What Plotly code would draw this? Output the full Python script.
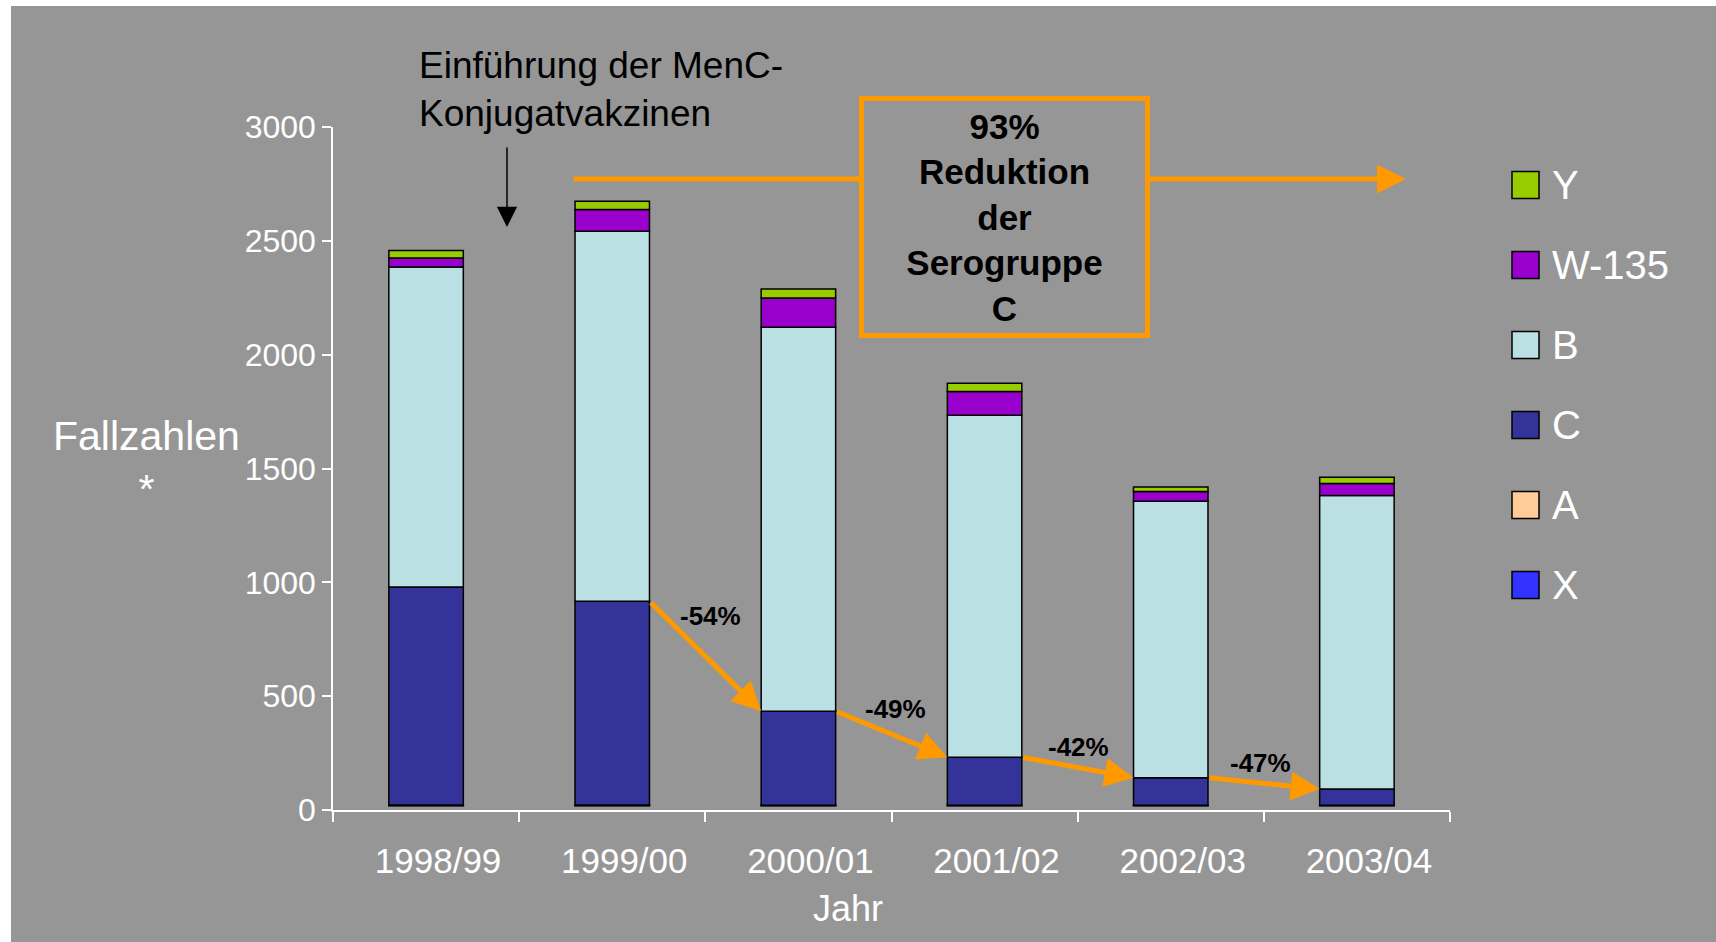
import numpy as np
import plotly.graph_objects as go

# ---------------- data ----------------
years = ["1998/99", "1999/00", "2000/01", "2001/02", "2002/03", "2003/04"]
sero_X = [1, 1, 1, 1, 1, 1]
sero_A = [2, 2, 1, 1, 1, 1]
sero_C = [957, 895, 413, 211, 121, 71]
sero_B = [1406, 1625, 1686, 1502, 1214, 1289]
sero_W135 = [40, 96, 129, 104, 43, 53]
sero_Y = [32, 36, 39, 37, 20, 28]
reduction_labels = ["-54%", "-49%", "-42%", "-47%"]
y_ticks = [0, 500, 1000, 1500, 2000, 2500, 3000]

# ---------------- style ----------------
W, H = 1716, 942
PLOT_L, PLOT_R, PLOT_T, PLOT_B = 333, 1450, 127, 810
BAR_BASE = 19
BG = "#969696"
ORANGE = "#FF9900"
FONT = "Arial, Liberation Sans, sans-serif"

series = [  # bottom -> top
    ("X", sero_X, "#3333FF"),
    ("A", sero_A, "#FFCC99"),
    ("C", sero_C, "#333399"),
    ("B", sero_B, "#BBE0E3"),
    ("W-135", sero_W135, "#9900CC"),
    ("Y", sero_Y, "#99CC00"),
]


def px_x(px):
    return (px - PLOT_L) / (PLOT_R - PLOT_L)


def px_y(py):
    return (PLOT_B - py) / (PLOT_B - PLOT_T)


fig = go.Figure()
cum = np.full(len(years), float(BAR_BASE))
c_top = None
for name, vals, color in series:
    v = np.array(vals, dtype=float)
    fig.add_trace(go.Bar(
        x=years, y=v, base=cum.copy(), name=name, width=0.4,
        marker=dict(color=color, line=dict(color="black", width=1.5)),
        showlegend=False,
    ))
    cum = cum + v
    if name == "C":
        c_top = cum.copy()

annotations = []
shapes = []

# gray slide background
shapes.append(dict(type="rect", xref="paper", yref="paper", layer="below",
                   x0=px_x(11), x1=px_x(W + 2), y0=px_y(H + 2), y1=px_y(6),
                   fillcolor=BG, line=dict(width=0)))

# intro text + black arrow
annotations.append(dict(text="Einführung der MenC-<br>Konjugatvakzinen", xref="paper", yref="paper",
                        x=px_x(417), y=px_y(90), xanchor="left", yanchor="middle", align="left",
                        showarrow=False, font=dict(family=FONT, size=37, color="black")))
annotations.append(dict(text="", xref="paper", yref="paper", x=px_x(507), y=px_y(227),
                        ax=0, ay=-81, showarrow=True, arrowhead=2, arrowsize=2.7,
                        arrowwidth=1.5, arrowcolor="black", standoff=0))

# long orange arrow and box
annotations.append(dict(text="", xref="paper", yref="paper", x=px_x(1406), y=px_y(179),
                        ax=-834, ay=0, showarrow=True, arrowhead=2, arrowsize=1.16,
                        arrowwidth=5, arrowcolor=ORANGE, standoff=0))
annotations.append(dict(text="<b>93%<br>Reduktion<br>der<br>Serogruppe<br>C</b>",
                        xref="paper", yref="paper", x=px_x(1004), y=px_y(217),
                        xanchor="center", yanchor="middle", showarrow=False,
                        width=281, height=232, bgcolor=BG, bordercolor=ORANGE,
                        borderwidth=5, borderpad=0,
                        font=dict(family=FONT, size=35, color="black")))

# diagonal arrows between C tops (from 1999/00 onwards)
label_pos = [(1.527, 852), (2.52, 444), (3.505, 277), (4.484, 206)]
for j, i in enumerate(range(1, len(years) - 1)):
    annotations.append(dict(text="", xref="x", yref="y", axref="x", ayref="y",
                            x=i + 1 - 0.2, y=c_top[i + 1], ax=i + 0.2, ay=c_top[i],
                            showarrow=True, arrowhead=2, arrowsize=1.16, arrowwidth=5,
                            arrowcolor=ORANGE, standoff=0))
    lx, ly = label_pos[j]
    annotations.append(dict(text="<b>" + reduction_labels[j] + "</b>", xref="x", yref="y",
                            x=lx, y=ly, showarrow=False,
                            font=dict(family=FONT, size=26, color="black")))

# axis titles
annotations.append(dict(text="Fallzahlen<br>*", xref="paper", yref="paper",
                        x=px_x(146), y=px_y(462), xanchor="center", yanchor="middle",
                        showarrow=False, font=dict(family=FONT, size=41, color="white")))
annotations.append(dict(text="Jahr", xref="paper", yref="paper",
                        x=px_x(848), y=px_y(908), xanchor="center", yanchor="middle",
                        showarrow=False, font=dict(family=FONT, size=36, color="white")))

# manual legend (top -> bottom: Y, W-135, B, C, A, X)
for k, (name, vals, color) in enumerate(reversed(series)):
    cy = 185 + 80 * k
    shapes.append(dict(type="rect", xref="paper", yref="paper", layer="above",
                       x0=px_x(1512), x1=px_x(1539), y0=px_y(cy + 13.5), y1=px_y(cy - 13.5),
                       fillcolor=color, line=dict(color="black", width=1.5)))
    annotations.append(dict(text=name, xref="paper", yref="paper", x=px_x(1550), y=px_y(cy),
                            xanchor="left", yanchor="middle", showarrow=False,
                            font=dict(family=FONT, size=40, color="white")))

fig.update_layout(
    width=W, height=H, autosize=False,
    margin=dict(l=PLOT_L, r=W - PLOT_R, t=PLOT_T, b=H - PLOT_B, pad=0),
    paper_bgcolor="white", plot_bgcolor="rgba(0,0,0,0)",
    barmode="overlay", showlegend=False,
    font=dict(family=FONT, color="white"),
    annotations=annotations, shapes=shapes,
    xaxis=dict(type="category", categoryorder="array", categoryarray=years,
               range=[-0.5, len(years) - 0.5], tickson="boundaries",
               ticks="outside", ticklen=10, tickwidth=1.5, tickcolor="white",
               showline=True, linecolor="white", linewidth=2, showgrid=False,
               tickfont=dict(family=FONT, size=35, color="white"),
               ticklabelstandoff=19, ticklabelshift=12),
    yaxis=dict(range=[0, 3000], tickvals=y_ticks, ticks="outside", ticklen=9,
               tickwidth=1.5, tickcolor="white", showline=True, linecolor="white",
               linewidth=1.5, showgrid=False, zeroline=False,
               tickfont=dict(family=FONT, size=32, color="white"), ticklabelstandoff=0),
)

fig.write_html("out.html", config={"displayModeBar": False},
               post_script="document.body.style.margin='0';"
                           "document.documentElement.style.overflow='hidden';")
